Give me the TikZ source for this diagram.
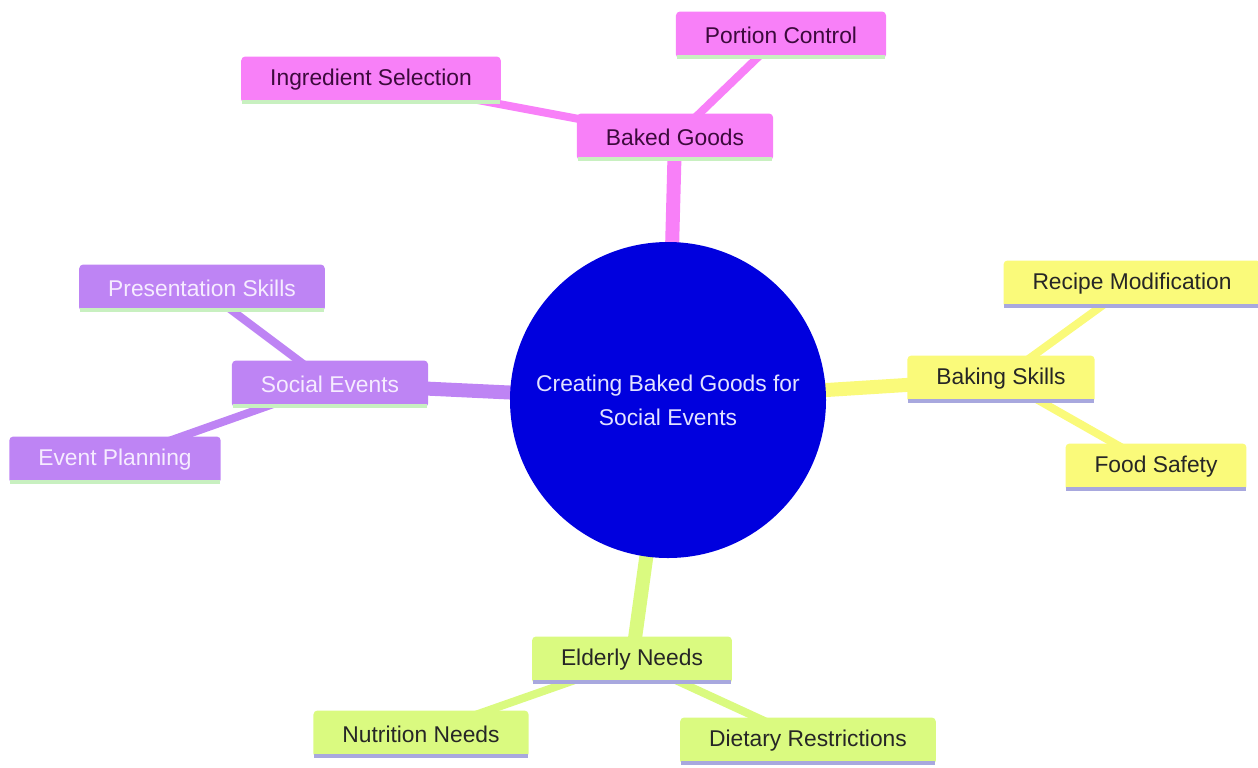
\documentclass[tikz,border=0pt]{standalone}
\usepackage{fontspec}
\setmainfont{Liberation Sans}
\usetikzlibrary{backgrounds}

\definecolor{hubblue}{RGB}{0,0,222}
\definecolor{hubtext}{RGB}{226,226,255}
\definecolor{bakedpink}{RGB}{248,128,248}
\definecolor{pinktext}{RGB}{60,10,60}
\definecolor{socialpurple}{RGB}{190,132,244}
\definecolor{purpletext}{RGB}{246,236,255}
\definecolor{skillyellow}{RGB}{250,250,122}
\definecolor{needgreen}{RGB}{218,250,128}
\definecolor{edgegreen}{RGB}{200,240,192}
\definecolor{edgelavender}{RGB}{168,168,222}

\begin{document}
\begin{tikzpicture}
  [x=0.5pt,y=-0.5pt,
   every node/.style={font=\fontsize{11.4}{17}\selectfont},
   box/.style={rectangle,rounded corners=2pt,inner xsep=14.5pt,inner ysep=0pt,minimum height=23.5pt},
   pinkbox/.style={box,fill=bakedpink,text=pinktext},
   purplebox/.style={box,fill=socialpurple,text=purpletext},
   yellowbox/.style={box,fill=skillyellow,text=black!85},
   greenbox/.style={box,fill=needgreen,text=black!85},
   trunk/.style={line width=7pt},
   twig/.style={line width=4pt}]
  \useasboundingbox (0,0) rectangle (1258,767);
  \node[circle,fill=hubblue,text=hubtext,minimum size=158pt,inner sep=0pt,align=center] (hub) at (668,400) {Creating Baked Goods for\\Social Events};
  \node[pinkbox] (baked) at (675,137) {Baked Goods};
  \node[pinkbox] (portion) at (781,35) {Portion Control};
  \node[pinkbox] (ingred) at (371,80) {Ingredient Selection};
  \node[purplebox] (social) at (330,384) {Social Events};
  \node[purplebox] (present) at (202,288) {Presentation Skills};
  \node[purplebox] (planning) at (115,460) {Event Planning};
  \node[yellowbox] (skills) at (1001,379) {Baking Skills};
  \node[yellowbox] (recipe) at (1132,284) {Recipe Modification};
  \node[yellowbox] (safety) at (1156,467) {Food Safety};
  \node[greenbox] (elderly) at (632,660) {Elderly Needs};
  \node[greenbox] (nutrition) at (421,734) {Nutrition Needs};
  \node[greenbox] (dietary) at (808,741) {Dietary Restrictions};
  \begin{scope}[on background layer]
    \foreach \from/\to/\c in {hub/baked/bakedpink,hub/social/socialpurple,hub/skills/skillyellow,hub/elderly/needgreen}
      \draw[trunk,\c] (\from.center) -- (\to.center);
    \foreach \from/\to/\c in {baked/portion/bakedpink,baked/ingred/bakedpink,social/present/socialpurple,social/planning/socialpurple,skills/recipe/skillyellow,skills/safety/skillyellow,elderly/nutrition/needgreen,elderly/dietary/needgreen}
      \draw[twig,\c] (\from.center) -- (\to.center);
  \end{scope}
  \foreach \n/\c in {baked/edgegreen,portion/edgegreen,ingred/edgegreen,social/edgegreen,present/edgegreen,planning/edgegreen,skills/edgelavender,recipe/edgelavender,safety/edgelavender,elderly/edgelavender,nutrition/edgelavender,dietary/edgelavender}
    \draw[line width=2pt,\c] ([xshift=0.5pt,yshift=1pt]\n.south west) -- ([xshift=-0.5pt,yshift=1pt]\n.south east);
\end{tikzpicture}
\end{document}
